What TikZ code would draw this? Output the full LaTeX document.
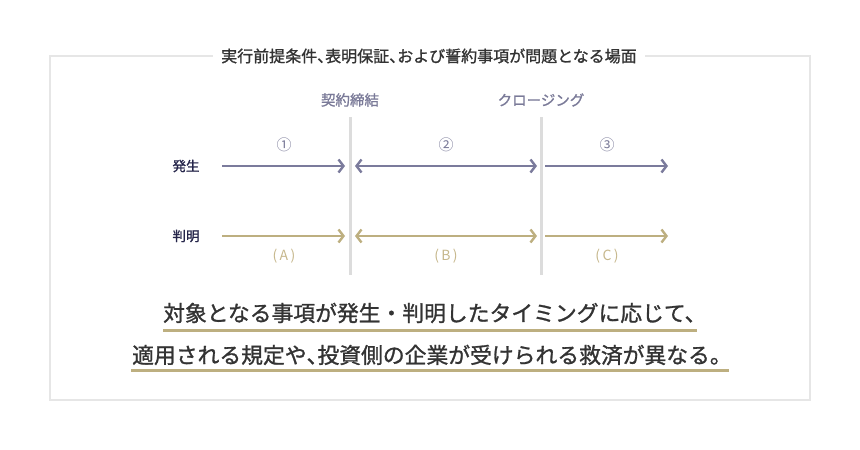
\documentclass[tikz,border=0pt]{standalone}
\usepackage{fontspec}
\setmainfont{Noto Sans CJK JP}
\newfontfamily\jpb{Noto Sans CJK JP}[FakeBold=1.2]
\usetikzlibrary{arrows.meta}
\newcommand{\hten}{\makebox[0.5em][l]{、}}
\definecolor{frame}{HTML}{E6E6E6}
\definecolor{titlec}{HTML}{333333}
\definecolor{milec}{HTML}{7A7A98}
\definecolor{rowc}{HTML}{25254A}
\definecolor{purp}{HTML}{7B7B9C}
\definecolor{gold}{HTML}{BDAF80}
\definecolor{goldtxt}{HTML}{C6B78C}
\definecolor{vline}{HTML}{DCDCDC}
\definecolor{bodyc}{HTML}{333333}
\tikzset{
  x=1pt,y=-1pt,
  tip/.style={-{Straight Barb[length=5pt,width=13pt]}},
  tipboth/.style={{Straight Barb[length=5pt,width=13pt]}-{Straight Barb[length=5pt,width=13pt]}},
  parr/.style={draw=purp,line width=2.4pt},
  garr/.style={draw=gold,line width=2.4pt},
  milestone/.style={text=milec,font=\fontsize{14.5}{16}\selectfont\jpb,inner sep=0pt},
  rowlab/.style={text=rowc,font=\fontsize{13.5}{15}\selectfont\jpb,inner sep=0pt},
  numlab/.style={text=milec,font=\fontsize{15}{17}\selectfont,inner sep=0pt},
  letlab/.style={text=goldtxt,font=\fontsize{14}{16}\selectfont,inner sep=0pt},
  bodytxt/.style={text=bodyc,font=\fontsize{21.8}{24}\selectfont\jpb,inner sep=0pt,anchor=west},
  uline/.style={draw=gold,line width=3pt},
}
\begin{document}
\begin{tikzpicture}
\useasboundingbox (0,0) rectangle (860,450);
\draw[frame,line width=1.5pt] (50,56) rectangle (810,400);
\node[fill=white,inner xsep=8pt,inner ysep=3pt,text=titlec,font=\fontsize{16}{18}\selectfont\jpb,anchor=west] (title) at (213,56) {実行前提条件\hten 表明保証\hten および誓約事項が問題となる場面};

\node[milestone] (m1) at (350,100) {契約締結};
\node[milestone] (m2) at (541,100) {クロージング};
\coordinate (v1t) at (350,117); \coordinate (v1b) at (350,275);
\coordinate (v2t) at (541,117); \coordinate (v2b) at (541,275);
\draw[vline,line width=3pt] (v1t) -- (v1b);
\draw[vline,line width=3pt] (v2t) -- (v2b);

\node[rowlab] (hassei) at (186,166) {発生};
\node[rowlab] (hanmei) at (186,236) {判明};

\coordinate (p1a) at (222,166); \coordinate (p1b) at (345,166);
\coordinate (p2a) at (355,166); \coordinate (p2b) at (537,166);
\coordinate (p3a) at (545,166); \coordinate (p3b) at (668,166);
\draw[parr,tip] (p1a) -- (p1b);
\draw[parr,tipboth] (p2a) -- (p2b);
\draw[parr,tip] (p3a) -- (p3b);

\coordinate (g1a) at (222,236); \coordinate (g1b) at (345,236);
\coordinate (g2a) at (355,236); \coordinate (g2b) at (537,236);
\coordinate (g3a) at (545,236); \coordinate (g3b) at (668,236);
\draw[garr,tip] (g1a) -- (g1b);
\draw[garr,tipboth] (g2a) -- (g2b);
\draw[garr,tip] (g3a) -- (g3b);

\node[numlab] (n1) at (284,145) {①};
\node[numlab] (n2) at (446,145) {②};
\node[numlab] (n3) at (607,145) {③};
\node[letlab] (l1) at (284,256) {(\,A\,)};
\node[letlab] (l2) at (446,256) {(\,B\,)};
\node[letlab] (l3) at (607,256) {(\,C\,)};

\node[bodytxt] (b1) at (163,313) {対象となる事項が発生・判明したタイミングに応じて、};
\node[bodytxt] (b2) at (132,355) {適用される規定や\hten 投資側の企業が受けられる救済が異なる。};
\coordinate (u1a) at (163,330); \coordinate (u1b) at (697,330);
\coordinate (u2a) at (131,370); \coordinate (u2b) at (729,370);
\draw[uline] (u1a) -- (u1b);
\draw[uline] (u2a) -- (u2b);
\end{tikzpicture}
\end{document}
